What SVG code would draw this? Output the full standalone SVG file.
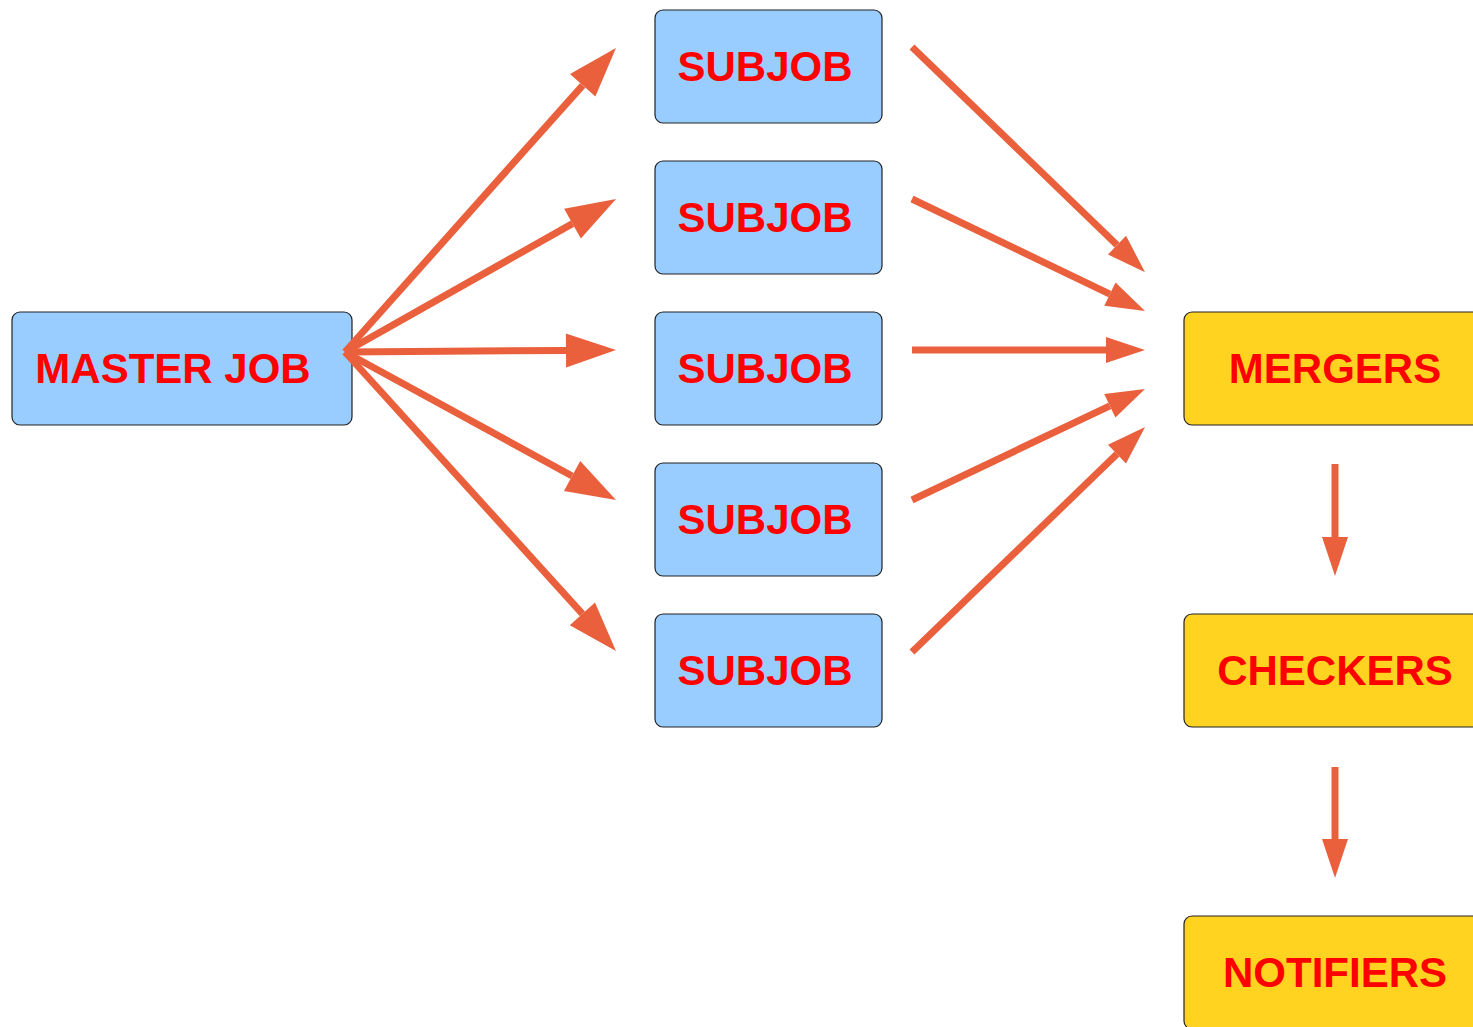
<svg xmlns="http://www.w3.org/2000/svg" width="1473" height="1027" viewBox="0 0 1473 1027">
<style>
.blue{fill:#99CCFF;stroke:#222;stroke-width:1.2}
.yel{fill:#FFD320;stroke:#222;stroke-width:1.2}
.lbl{font-family:"Liberation Sans",Arial,sans-serif;font-weight:bold;font-size:42px;fill:#FF0000;text-anchor:middle}
.c line{stroke:#EA603D;stroke-width:7;fill:none}
.c line.big{marker-end:url(#big)}
.c line.sm{marker-end:url(#sm)}
</style>
<defs>
<marker id="big" markerUnits="userSpaceOnUse" markerWidth="52" markerHeight="36" refX="0" refY="17" orient="auto" overflow="visible">
<path d="M0,0 L50,17 L0,34 Z" fill="#EA603D"/>
</marker>
<marker id="sm" markerUnits="userSpaceOnUse" markerWidth="41" markerHeight="28" refX="0" refY="13" orient="auto" overflow="visible">
<path d="M0,0 L39,13 L0,26 Z" fill="#EA603D"/>
</marker>
</defs>
<rect width="1473" height="1027" fill="#FFFFFF"/>
<g id="master"><rect class="blue" x="12" y="312" width="340" height="113" rx="8"/><text class="lbl" x="173" y="383">MASTER JOB</text></g>
<g id="subjob1"><rect class="blue" x="655" y="10" width="227" height="113" rx="8"/><text class="lbl" x="765" y="81">SUBJOB</text></g>
<g id="subjob2"><rect class="blue" x="655" y="161" width="227" height="113" rx="8"/><text class="lbl" x="765" y="232">SUBJOB</text></g>
<g id="subjob3"><rect class="blue" x="655" y="312" width="227" height="113" rx="8"/><text class="lbl" x="765" y="383">SUBJOB</text></g>
<g id="subjob4"><rect class="blue" x="655" y="463" width="227" height="113" rx="8"/><text class="lbl" x="765" y="534">SUBJOB</text></g>
<g id="subjob5"><rect class="blue" x="655" y="614" width="227" height="113" rx="8"/><text class="lbl" x="765" y="685">SUBJOB</text></g>
<g id="mergers"><rect class="yel" x="1184" y="312" width="302" height="113" rx="8"/><text class="lbl" x="1335" y="383">MERGERS</text></g>
<g id="checkers"><rect class="yel" x="1184" y="614" width="302" height="113" rx="8"/><text class="lbl" x="1335" y="685">CHECKERS</text></g>
<g id="notifiers"><rect class="yel" x="1184" y="916" width="302" height="113" rx="8"/><text class="lbl" x="1335" y="987">NOTIFIERS</text></g>
<g id="connectors" class="c">
<line class="big" x1="345" y1="352" x2="582.7" y2="85.3"/>
<line class="big" x1="345" y1="352" x2="572.5" y2="223.6"/>
<line class="big" x1="345" y1="352" x2="566" y2="350.4"/>
<line class="big" x1="345" y1="352" x2="572.1" y2="476"/>
<line class="big" x1="345" y1="352" x2="582.4" y2="613.9"/>
<line class="sm" x1="912" y1="47" x2="1117" y2="245.1"/>
<line class="sm" x1="912" y1="199" x2="1109.9" y2="294.1"/>
<line class="sm" x1="912" y1="350" x2="1106" y2="350"/>
<line class="sm" x1="912" y1="500" x2="1109.8" y2="405.8"/>
<line class="sm" x1="912" y1="652" x2="1117" y2="454.1"/>
<line class="sm" x1="1335" y1="464" x2="1335" y2="537"/>
<line class="sm" x1="1335" y1="767" x2="1335" y2="839"/>
</g>
</svg>
